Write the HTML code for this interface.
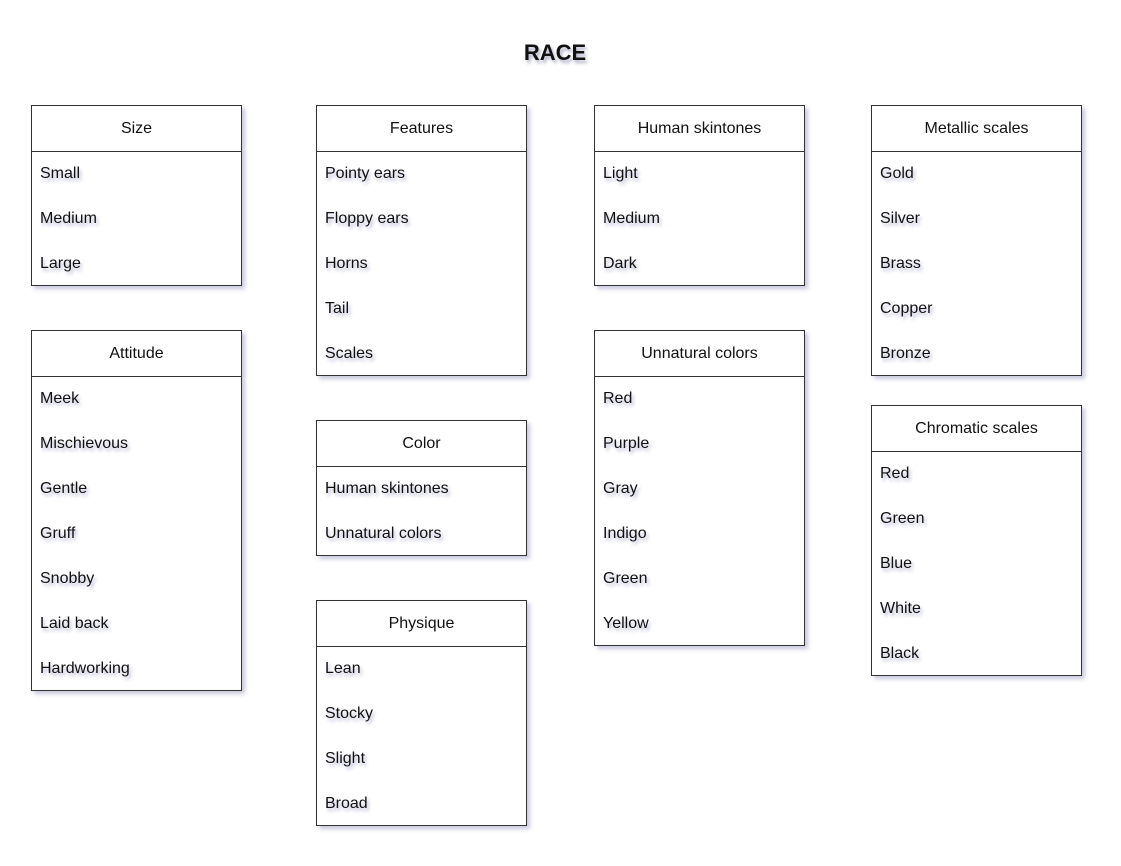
<!DOCTYPE html>
<html><head><style>
body{margin:0;width:1121px;height:866px;background:#fff;position:relative;font-family:"Liberation Sans",Arial,sans-serif;overflow:hidden}
.t{position:absolute;left:455px;width:200px;top:40px;text-align:center;font-weight:bold;font-size:22px;color:#111;text-shadow:2px 3px 3px rgba(80,80,140,.45)}
.b{position:absolute;width:211px;border:1px solid #333;background:#fff;box-shadow:3px 3px 4px rgba(100,100,160,.35);box-sizing:border-box}
.h{height:46px;line-height:46px;text-align:center;font-size:16px;border-bottom:1px solid #333;color:#111;box-sizing:border-box}
.r{height:45px;line-height:44px;padding-left:8px;font-size:16px;color:#111;text-shadow:2px 3px 3px rgba(80,80,150,.4)}
</style></head><body>
<div class="t">RACE</div>
<div class="b" style="left:31px;top:105px;height:181px"><div class="h">Size</div><div class="r">Small</div><div class="r">Medium</div><div class="r">Large</div></div>
<div class="b" style="left:31px;top:330px;height:361px"><div class="h">Attitude</div><div class="r">Meek</div><div class="r">Mischievous</div><div class="r">Gentle</div><div class="r">Gruff</div><div class="r">Snobby</div><div class="r">Laid back</div><div class="r">Hardworking</div></div>
<div class="b" style="left:316px;top:105px;height:271px"><div class="h">Features</div><div class="r">Pointy ears</div><div class="r">Floppy ears</div><div class="r">Horns</div><div class="r">Tail</div><div class="r">Scales</div></div>
<div class="b" style="left:316px;top:420px;height:136px"><div class="h">Color</div><div class="r">Human skintones</div><div class="r">Unnatural colors</div></div>
<div class="b" style="left:316px;top:600px;height:226px"><div class="h">Physique</div><div class="r">Lean</div><div class="r">Stocky</div><div class="r">Slight</div><div class="r">Broad</div></div>
<div class="b" style="left:594px;top:105px;height:181px"><div class="h">Human skintones</div><div class="r">Light</div><div class="r">Medium</div><div class="r">Dark</div></div>
<div class="b" style="left:594px;top:330px;height:316px"><div class="h">Unnatural colors</div><div class="r">Red</div><div class="r">Purple</div><div class="r">Gray</div><div class="r">Indigo</div><div class="r">Green</div><div class="r">Yellow</div></div>
<div class="b" style="left:871px;top:105px;height:271px"><div class="h">Metallic scales</div><div class="r">Gold</div><div class="r">Silver</div><div class="r">Brass</div><div class="r">Copper</div><div class="r">Bronze</div></div>
<div class="b" style="left:871px;top:405px;height:271px"><div class="h">Chromatic scales</div><div class="r">Red</div><div class="r">Green</div><div class="r">Blue</div><div class="r">White</div><div class="r">Black</div></div>
</body></html>
